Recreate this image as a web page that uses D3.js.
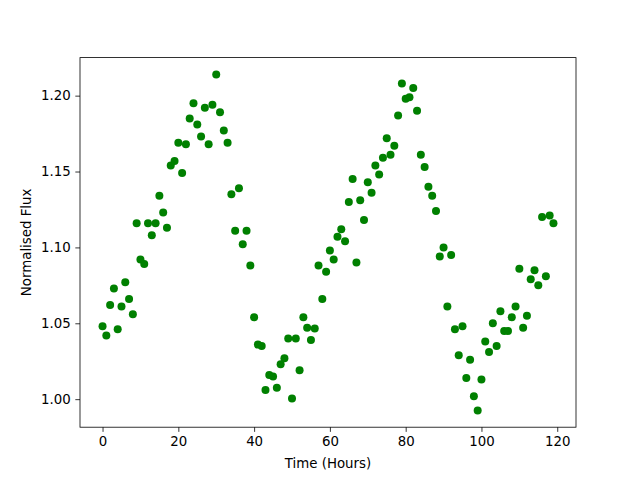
<!DOCTYPE html>
<html>
<head>
<meta charset="utf-8">
<script src="https://cdn.jsdelivr.net/npm/d3@7"></script>
<style>
  body { margin: 0; background: #fff; }
  svg text { font-family: "DejaVu Sans", sans-serif; fill: #000; }
</style>
</head>
<body>
<div id="chart-area"></div>
<script>
// hours 0..119, one reading per hour
const hours = d3.range(0, 120);

const flux = [
  1.048, 1.042, 1.062, 1.073, 1.046, 1.061, 1.077, 1.066, 1.056, 1.116,
  1.092, 1.089, 1.116, 1.108, 1.116, 1.134, 1.123, 1.113, 1.154, 1.157,
  1.169, 1.149, 1.168, 1.185, 1.195, 1.181, 1.173, 1.192, 1.168, 1.194,
  1.214, 1.189, 1.177, 1.169, 1.135, 1.111, 1.139, 1.102, 1.111, 1.088,
  1.054, 1.036, 1.035, 1.006, 1.016, 1.015, 1.0075, 1.023, 1.027, 1.040,
  1.0005, 1.040, 1.019, 1.054, 1.047, 1.039, 1.0465, 1.088, 1.066, 1.084,
  1.098, 1.092, 1.107, 1.112, 1.104, 1.130, 1.145, 1.090, 1.131, 1.118,
  1.143, 1.136, 1.154, 1.148, 1.159, 1.172, 1.161, 1.167, 1.187, 1.208,
  1.198, 1.199, 1.205, 1.190, 1.161, 1.153, 1.140, 1.134, 1.124, 1.094,
  1.100, 1.061, 1.095, 1.046, 1.029, 1.048, 1.014, 1.026, 1.002, 0.9926,
  1.013, 1.038, 1.031, 1.050, 1.035, 1.058, 1.045, 1.045, 1.054, 1.061,
  1.086, 1.047, 1.055, 1.079, 1.085, 1.075, 1.120, 1.081, 1.121, 1.116
];

const xTicks = [0, 20, 40, 60, 80, 100, 120];
const yTicks = [1.00, 1.05, 1.10, 1.15, 1.20];

const margin = { top: 57.6, right: 64, bottom: 52.8, left: 80 };
const width = 640 - margin.left - margin.right;
const height = 480 - margin.top - margin.bottom;

const data = hours.map((h, i) => ({ hour: h, flux: flux[i] }));

const svg = d3.select('#chart-area')
  .append('svg')
  .attr('width', 640)
  .attr('height', 480);

const g = svg.append('g')
  .attr('transform', `translate(${margin.left}, ${margin.top})`);

// matplotlib style 5% padding on both axes
const xExt = d3.extent(hours);
const xPad = (xExt[1] - xExt[0]) * 0.05;
const x = d3.scaleLinear()
  .domain([xExt[0] - xPad, xExt[1] + xPad])
  .range([0, width]);

const yExt = d3.extent(flux);
const yPad = (yExt[1] - yExt[0]) * 0.05;
const y = d3.scaleLinear()
  .domain([yExt[0] - yPad, yExt[1] + yPad])
  .range([height, 0]);

const xAxisCall = d3.axisBottom(x)
  .tickValues(xTicks)
  .tickSize(4.67)
  .tickSizeOuter(0)
  .tickPadding(4.67)
  .tickFormat(d3.format('d'));

const yAxisCall = d3.axisLeft(y)
  .tickValues(yTicks)
  .tickSize(4.67)
  .tickSizeOuter(0)
  .tickPadding(4.67)
  .tickFormat(d3.format('.2f'));

const xAxisGroup = g.append('g')
  .attr('class', 'x axis')
  .attr('transform', `translate(0, ${height})`)
  .call(xAxisCall);

const yAxisGroup = g.append('g')
  .attr('class', 'y axis')
  .call(yAxisCall);

[xAxisGroup, yAxisGroup].forEach(ax => {
  ax.select('.domain').remove();
  ax.selectAll('line').attr('stroke', '#000').attr('stroke-width', 0.8);
  ax.selectAll('text').attr('font-size', '13.33px').attr('font-family', 'DejaVu Sans');
});

// frame
g.append('rect')
  .attr('x', 0)
  .attr('y', 0)
  .attr('width', width)
  .attr('height', height)
  .attr('fill', 'none')
  .attr('stroke', '#000')
  .attr('stroke-width', 0.8);

// points
g.selectAll('circle')
  .data(data)
  .enter().append('circle')
  .attr('cx', d => x(d.hour))
  .attr('cy', d => y(d.flux))
  .attr('r', 4)
  .attr('fill', 'green');

// X label
g.append('text')
  .attr('class', 'x axis-label')
  .attr('x', width / 2)
  .attr('y', height + 41)
  .attr('font-size', '13.33px')
  .attr('text-anchor', 'middle')
  .text('Time (Hours)');

// Y label
g.append('text')
  .attr('class', 'y axis-label')
  .attr('x', -(height / 2))
  .attr('y', -49)
  .attr('font-size', '13.33px')
  .attr('text-anchor', 'middle')
  .attr('transform', 'rotate(-90)')
  .text('Normalised Flux');
</script>
</body>
</html>
